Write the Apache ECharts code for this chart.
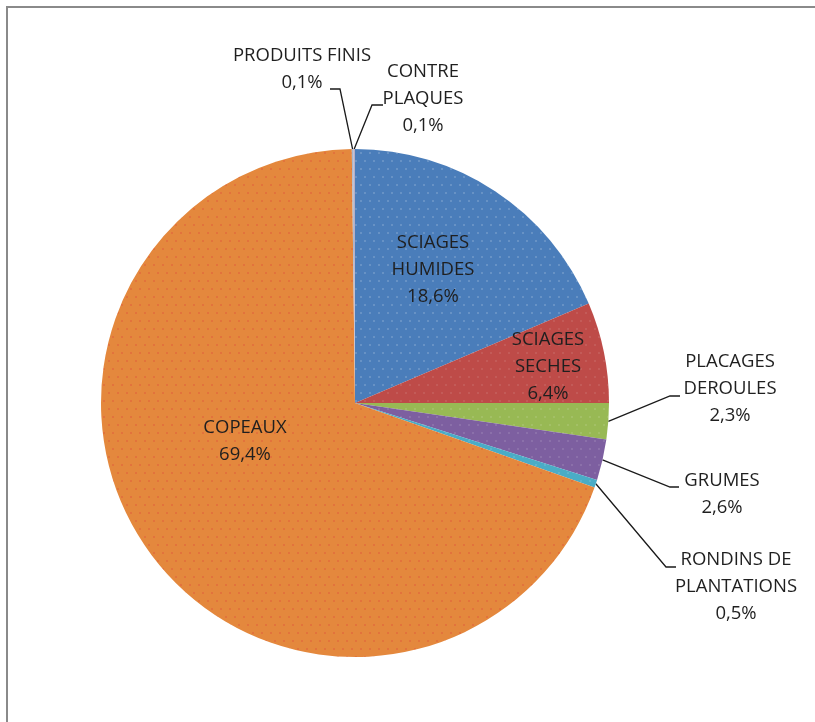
<!DOCTYPE html>
<html>
<head>
<meta charset="utf-8">
<script src="https://cdn.jsdelivr.net/npm/echarts@6/dist/echarts.min.js"></script>
<style>
  html, body { margin: 0; padding: 0; background: #fff; }
  #chart { width: 815px; height: 722px; }
</style>
</head>
<body>
<div id="chart"></div>
<script>
// Product categories, clockwise from 12 o'clock
const categories = [
  'SCIAGES HUMIDES', 'SCIAGES SECHES', 'PLACAGES DEROULES', 'GRUMES',
  'RONDINS DE PLANTATIONS', 'COPEAUX', 'PRODUITS FINIS', 'CONTRE PLAQUES'
];
// Share of each category, in percent
const shares = [18.6, 6.4, 2.3, 2.6, 0.5, 69.4, 0.1, 0.1];
// Label lines for each category
const labelLines = [
  ['SCIAGES', 'HUMIDES'], ['SCIAGES', 'SECHES'], ['PLACAGES', 'DEROULES'], ['GRUMES'],
  ['RONDINS DE', 'PLANTATIONS'], ['COPEAUX'], ['PRODUITS FINIS'], ['CONTRE', 'PLAQUES']
];
const colors = ['#4a7dba', '#be4b48', '#98b954', '#7d5fa0', '#4aacc6', '#e4883d', '#a9b6cc', '#b7aec4'];
// Fine speckle over each slice
const speckle = ['rgba(255,255,255,0.22)', 'rgba(255,255,255,0.12)', 'rgba(255,255,255,0.15)',
  'rgba(255,255,255,0.15)', 'rgba(255,255,255,0.15)', 'rgba(220,60,60,0.35)', 'rgba(0,0,0,0)', 'rgba(0,0,0,0)'];

// Where each label block sits and whether it gets a leader line
const labelPlace = [
  { x: 433, y: 270, line: false },
  { x: 548, y: 367, line: false },
  { x: 730, y: 389, line: true, elbow: [670, 396], end: [680, 396] },
  { x: 722, y: 494, line: true, elbow: [670, 487], end: [679, 487] },
  { x: 736, y: 587, line: true, elbow: [666, 567], end: [676, 567] },
  { x: 245, y: 441, line: false },
  { x: 302, y: 69, line: true, elbow: [340, 89], end: [330, 89] },
  { x: 423, y: 99, line: true, elbow: [372, 105], end: [383, 105] }
];

const pct = v => v.toFixed(1).replace('.', ',') + '%';

const chart = echarts.init(document.getElementById('chart'), null, { renderer: 'canvas' });
chart.setOption({
  animation: false,
  graphic: [{
    type: 'rect',
    shape: { x: 7, y: 7, width: 900, height: 900 },
    style: { fill: 'none', stroke: '#8a8a8a', lineWidth: 2 },
    silent: true
  }],
  series: [{
    type: 'pie',
    center: [355, 403],
    radius: [0, 254],
    startAngle: 90,
    clockwise: true,
    avoidLabelOverlap: false,
    data: categories.map((name, i) => ({
      name,
      value: shares[i],
      itemStyle: {
        color: colors[i],
        decal: {
          symbol: 'circle',
          symbolSize: 1,
          color: speckle[i],
          dashArrayX: [[2, 7], [0, 4, 2, 3]],
          dashArrayY: [2, 6],
          rotation: 0
        }
      },
      label: { position: labelPlace[i].line ? 'outside' : 'inside' },
      labelLine: { show: labelPlace[i].line }
    })),
    label: {
      show: true,
      fontFamily: 'Open Sans',
      fontSize: 18.5,
      lineHeight: 27,
      color: '#1f1f1f',
      align: 'center',
      formatter: p => labelLines[p.dataIndex].join('\n') + '\n' + pct(p.value)
    },
    labelLine: {
      show: true,
      lineStyle: { color: '#1a1a1a', width: 1.3 }
    },
    labelLayout: p => {
      const s = labelPlace[p.dataIndex];
      const out = { x: s.x, y: s.y, align: 'center', verticalAlign: 'middle' };
      if (s.line && p.labelLinePoints) {
        out.labelLinePoints = [p.labelLinePoints[0], s.elbow, s.end];
      }
      return out;
    }
  }]
});
</script>
</body>
</html>
